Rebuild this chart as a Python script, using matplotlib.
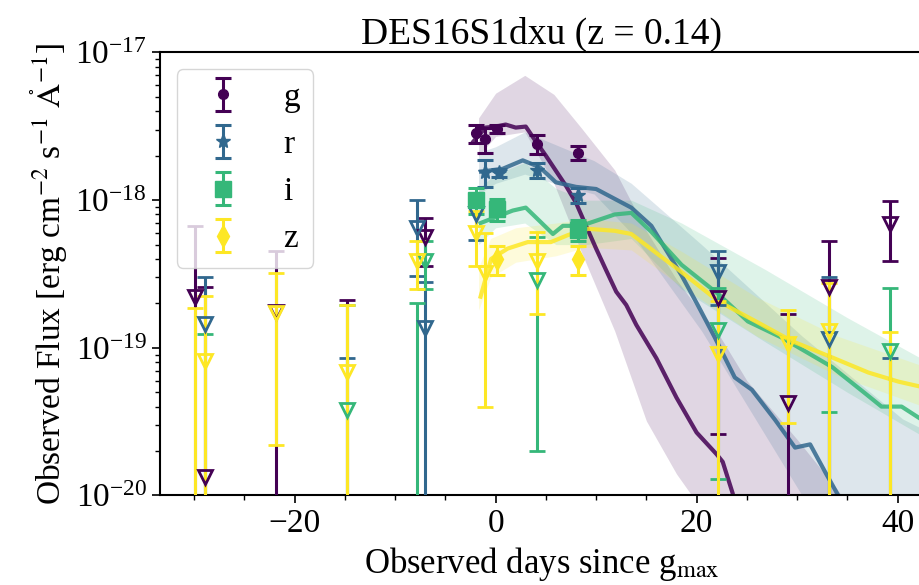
import numpy as np
import matplotlib
matplotlib.use('Agg')
import matplotlib.pyplot as plt
from matplotlib.ticker import MultipleLocator, NullFormatter, FixedLocator, LogFormatterSciNotation

plt.rcParams['font.family'] = ['Liberation Serif', 'DejaVu Serif']
plt.rcParams['mathtext.fontset'] = 'stix'

# flux unit of all lists below
unit = 1e-18

# observed photometry: days since g max, flux, error, detection flag
g_days = [-29.9, -28.9, -21.9, -14.8, -7.0, -1.94, -1.02, 0.15, 4.14, 8.2, 22.15, 29.06, 33.2, 39.2]
g_flux = [0.222, 0.0134, 0.175, 0.005, 0.56, 2.85, 2.6, 3.05, 2.4, 2.1, 0.216, 0.042, 0.259, 0.686]
g_err = [0.45, 0.246, 0.28, 0.205, 0.2, 0.4, 0.5, 0.2, 0.35, 0.22, 0.19, 0.128, 0.266, 0.30]
g_det = [0, 0, 0, 0, 0, 1, 1, 1, 1, 1, 0, 0, 0, 0]

r_days = [-28.9, -14.8, -7.83, -7.0, -1.94, -1.1, 0.3, 4.14, 8.2, 22.15, 33.2, 39.2]
r_flux = [0.144, 0.005, 0.65, 0.136, 0.80, 1.55, 1.53, 1.6, 1.08, 0.326, 0.114, 0.005]
r_err = [0.158, 0.08, 0.345, 0.145, 0.26, 0.33, 0.1, 0.18, 0.12, 0.13, 0.19, 0.08]
r_det = [0, 0, 0, 0, 0, 1, 1, 1, 1, 0, 0, 0]

i_days = [-28.9, -14.8, -7.83, -7.0, -1.94, 0.15, 4.14, 8.2, 22.15, 33.2, 39.2]
i_flux = [0.005, 0.038, 0.005, 0.39, 1.0, 0.87, 0.29, 0.63, 0.133, 0.005, 0.0955]
i_err = [0.12, 0.157, 0.195, 0.14, 0.2, 0.15, 0.27, 0.1, 0.12, 0.032, 0.157]
i_det = [0, 0, 0, 0, 1, 1, 0, 1, 0, 0, 0]

z_days = [-29.9, -28.9, -21.9, -14.8, -7.83, -1.94, -1.02, 0.15, 4.14, 8.2, 22.15, 29.06, 33.2, 39.2]
z_flux = [0.005, 0.082, 0.172, 0.0685, 0.39, 0.60, 0.32, 0.40, 0.39, 0.40, 0.091, 0.106, 0.130, 0.005]
z_err = [0.18, 0.143, 0.15, 0.125, 0.14, 0.24, 0.28, 0.09, 0.22, 0.09, 0.115, 0.075, 0.146, 0.123]
z_det = [0, 0, 0, 0, 0, 0, 0, 1, 0, 1, 0, 0, 0, 0]

# best fit model curves
g_mod_days = [-2.2, -1, 0, 1, 2, 3, 4, 5, 6, 7, 8, 9, 10, 11, 12, 13, 14, 16, 18, 20, 22, 22.6, 23.6, 24.5]
g_mod = [2.5, 3.1, 3.15, 3.25, 3.1, 3.15, 2.5, 2.0, 1.58, 1.25, 0.96, 0.67, 0.47, 0.335, 0.24, 0.195,
         0.143, 0.085, 0.046, 0.0267, 0.019, 0.0169, 0.0103, 0.0027]
r_mod_days = [-1.45, 0.7, 2.7, 4.4, 6.0, 8.0, 10.0, 13.5, 15.5, 18.5, 20.2, 21.8, 23.8, 25.5, 27.8,
              29.8, 31.3, 32.8, 34.1, 35.5]
r_mod = [1.56, 1.63, 1.86, 1.67, 1.32, 1.23, 1.19, 0.89, 0.67, 0.31, 0.19, 0.118, 0.063, 0.052, 0.0326,
         0.0211, 0.0222, 0.0144, 0.0100, 0.006]
i_mod_days = [-1.5, 1.7, 3.0, 4.4, 5.7, 6.7, 8.5, 11.85, 13.5, 15.5, 18.5, 22.2, 25.1, 28.5, 33.5, 36.8,
              38.4, 40.4, 42.6]
i_mod = [0.70, 0.85, 0.89, 0.72, 0.59, 0.67, 0.67, 0.80, 0.82, 0.61, 0.365, 0.23, 0.151, 0.117, 0.074,
         0.049, 0.040, 0.040, 0.032]
z_mod_days = [-1.5, -0.45, 1.2, 3.2, 5.5, 7.2, 9.2, 11.85, 13.5, 18.5, 22.2, 25.9, 29.5, 33.5, 37.1, 40.1, 42.6]
z_mod = [0.222, 0.40, 0.47, 0.52, 0.52, 0.58, 0.64, 0.62, 0.59, 0.326, 0.206, 0.151, 0.111, 0.086,
         0.068, 0.059, 0.054]

# spread of the posterior model curves
g_env_days = [-1.7, 0, 2.9, 5.8, 8.5, 11.85, 15, 18, 20, 22, 25, 30, 34, 36]
g_env_hi = [3.6, 5.3, 7.0, 5.2, 3.1, 1.6, 0.62, 0.29, 0.19, 0.13, 0.06, 0.024, 0.011, 0.007]
g_env_lo = [2.0, 2.7, 2.9, 1.3, 0.45, 0.13, 0.032, 0.014, 0.009, 0.006, 0.003, 0.002, 0.001, 0.001]
r_env_days = [-1.7, 0, 2.9, 5.8, 9.8, 13.5, 20.5, 30.5, 40.5, 42.6]
r_env_hi = [2.1, 2.3, 2.9, 2.4, 1.85, 1.3, 0.5, 0.12, 0.033, 0.028]
r_env_lo = [1.1, 1.3, 1.5, 1.3, 1.1, 0.6, 0.13, 0.01, 0.003, 0.002]
i_env_days = [-1.7, 0, 2.9, 6, 9, 13.5, 18.5, 26.8, 35, 42.6]
i_env_hi = [1.2, 1.5, 1.8, 1.2, 1.0, 1.0, 0.70, 0.34, 0.16, 0.083]
i_env_lo = [0.5, 0.65, 0.7, 0.5, 0.5, 0.55, 0.25, 0.11, 0.05, 0.025]
z_env_days = [-1.7, -0.5, 2, 6, 9, 13.5, 18.5, 26, 34, 42.6]
z_env_hi = [0.35, 0.55, 0.65, 0.7, 0.75, 0.7, 0.45, 0.22, 0.12, 0.075]
z_env_lo = [0.18, 0.3, 0.38, 0.42, 0.48, 0.46, 0.26, 0.12, 0.065, 0.04]

# axis ticks
y_major = [1e-20, 1e-19, 1e-18, 1e-17]

bands = ['g', 'r', 'i', 'z']
colors = {'g': '#440154', 'r': '#31688e', 'i': '#35b779', 'z': '#fde725'}
markers = {'g': 'o', 'r': '*', 'i': 's', 'z': 'd'}
msizes = {'g': 7, 'r': 11, 'i': 12, 'z': 11}

obs = {'g': (g_days, g_flux, g_err, g_det), 'r': (r_days, r_flux, r_err, r_det),
       'i': (i_days, i_flux, i_err, i_det), 'z': (z_days, z_flux, z_err, z_det)}
mods = {'g': (g_mod_days, g_mod), 'r': (r_mod_days, r_mod),
        'i': (i_mod_days, i_mod), 'z': (z_mod_days, z_mod)}
envs = {'g': (g_env_days, g_env_lo, g_env_hi), 'r': (r_env_days, r_env_lo, r_env_hi),
        'i': (i_env_days, i_env_lo, i_env_hi), 'z': (z_env_days, z_env_lo, z_env_hi)}

fig = plt.figure(figsize=(9.19, 5.85), dpi=100)
ax = fig.add_axes([0.1741, 0.153, 0.831, 0.7573])

for b in bands:
    d, lo, hi = envs[b]
    ax.fill_between(d, np.array(lo) * unit, np.array(hi) * unit, color=colors[b],
                    alpha=0.16, lw=0, zorder=1)
for b in bands:
    d, f = mods[b]
    ax.plot(d, np.array(f) * unit, color=colors[b], lw=3, alpha=0.85, zorder=2)

handles = []
for b in bands:
    d, f, e, det = obs[b]
    d = np.array(d)
    f = np.array(f) * unit
    e = np.array(e) * unit
    det = np.array(det, dtype=bool)
    h = ax.errorbar(d[det], f[det], yerr=e[det], fmt=markers[b], color=colors[b], ms=msizes[b],
                    elinewidth=2.2, capsize=6, capthick=2.2, zorder=3, label=b)
    ax.errorbar(d[~det], f[~det], yerr=e[~det], fmt='v', color=colors[b], mfc='none',
                mec=colors[b], mew=2, ms=10, elinewidth=2.2, capsize=6, capthick=2.2, zorder=3)
    handles.append(h)

ax.set_yscale('log')
ax.set_ylim(1e-20, 1e-17)
ax.set_xlim(-33.4, 42.6)
ax.xaxis.set_major_locator(MultipleLocator(20))
ax.xaxis.set_minor_locator(MultipleLocator(5))
ax.yaxis.set_major_locator(FixedLocator(y_major))
ax.yaxis.set_major_formatter(LogFormatterSciNotation())
ax.yaxis.set_minor_formatter(NullFormatter())
ax.tick_params(which='major', labelsize=24, length=6, width=1.2)
ax.tick_params(which='minor', length=3.5, width=1, labelleft=False, labelbottom=False)
for s in ax.spines.values():
    s.set_linewidth(1.5)

ax.legend(handles=handles, loc='upper left', fontsize=24)
ax.set_title('DES16S1dxu (z = 0.14)', fontsize=27)
ax.set_xlabel(r'Observed days since g$_{\rm max}$', fontsize=25)
ax.set_ylabel(r'Observed Flux [erg cm$^{-2}$ s$^{-1}$ $\mathring{\rm A}^{-1}$]', fontsize=24)

fig.savefig('out.png', dpi=100)
